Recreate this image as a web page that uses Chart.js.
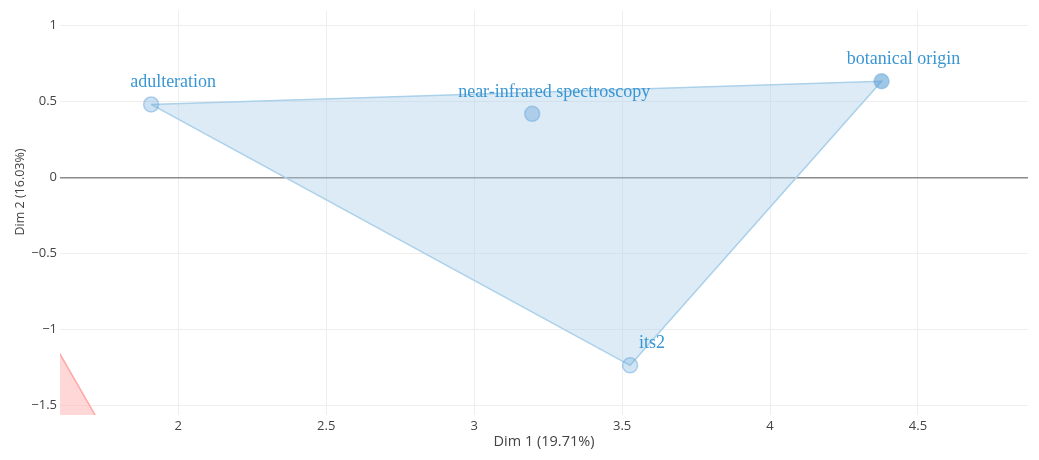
<!DOCTYPE html>
<html>
<head>
<meta charset="utf-8">
<script src="https://cdn.jsdelivr.net/npm/chart.js@4.4.0/dist/chart.umd.min.js"></script>
<style>
  html, body { margin: 0; padding: 0; background: #fff; }
  #wrap { width: 1039px; height: 460px; position: relative; }
</style>
</head>
<body>
<div id="wrap"><canvas id="biplot"></canvas></div>
<script>
// mots-clés et coordonnées sur les deux premières dimensions
const motsCles = ['adulteration', 'near-infrared spectroscopy', 'botanical origin', 'its2'];
const dim1 = [1.908, 3.196, 4.377, 3.527];
const dim2 = [0.479, 0.417, 0.631, -1.235];

// enveloppe du groupe bleu (indices dans les tableaux ci-dessus)
const enveloppeBleue = [0, 2, 3, 0];

// enveloppe du groupe rouge, en grande partie hors du cadre
const rougeX = [1.5, 1.8, 1.3, 1.5];
const rougeY = [-0.824, -1.835, -1.9, -0.824];

const ticksX = [2, 2.5, 3, 3.5, 4, 4.5];
const ticksY = [-1.5, -1, -0.5, 0, 0.5, 1];
const titreX = 'Dim 1 (19.71%)';
const titreY = 'Dim 2 (16.03%)';

const bleu = 'rgb(58,150,210)';
const policeAxes = '"Open Sans", Verdana, Arial, sans-serif';

function formatTick(v) {
    return String(v).replace('-', '\u2212');
}

// étiquettes des points + titres des axes
const etiquettes = {
    id: 'etiquettes',
    afterDatasetsDraw(chart) {
        const ctx = chart.ctx;
        const x = chart.scales.x;
        const y = chart.scales.y;
        ctx.save();
        ctx.fillStyle = bleu;
        ctx.font = '18px "Liberation Serif", "Times New Roman", serif';
        ctx.textAlign = 'center';
        ctx.textBaseline = 'middle';
        motsCles.forEach((m, i) => {
            ctx.fillText(m, x.getPixelForValue(dim1[i]) + 22, y.getPixelForValue(dim2[i]) - 22);
        });
        ctx.restore();
    },
    afterDraw(chart) {
        const ctx = chart.ctx;
        const area = chart.chartArea;
        ctx.save();
        ctx.fillStyle = '#444';
        ctx.textAlign = 'center';
        ctx.textBaseline = 'middle';
        ctx.font = '14.5px ' + policeAxes;
        ctx.fillText(titreX, (area.left + area.right) / 2, 442);
        ctx.translate(20, 192);
        ctx.rotate(-Math.PI / 2);
        ctx.font = '12.5px ' + policeAxes;
        ctx.fillText(titreY, 0, 0);
        ctx.restore();
    }
};

function chargerGraphique() {
    const ctx = document.getElementById('biplot').getContext('2d');

    new Chart(ctx, {
        type: 'scatter',
        data: {
            datasets: [
                {
                    label: 'points',
                    data: dim1.map((v, i) => ({ x: v, y: dim2[i] })),
                    pointRadius: 7.5,
                    pointHoverRadius: 7.5,
                    pointBackgroundColor: [
                        'rgba(110,170,220,0.35)', 'rgba(110,170,220,0.45)',
                        'rgba(80,155,210,0.55)', 'rgba(110,170,220,0.32)'
                    ],
                    pointBorderColor: 'rgba(110,170,220,0.5)',
                    pointBorderWidth: 1.5,
                    showLine: false,
                    order: 0
                },
                {
                    label: 'enveloppe bleue',
                    data: enveloppeBleue.map(i => ({ x: dim1[i], y: dim2[i] })),
                    showLine: true,
                    pointRadius: 0,
                    borderColor: 'rgba(170,208,234,1)',
                    borderWidth: 1.5,
                    backgroundColor: 'rgba(175,208,234,0.42)',
                    fill: 'shape',
                    tension: 0,
                    order: 1
                },
                {
                    label: 'enveloppe rouge',
                    data: rougeX.map((v, i) => ({ x: v, y: rougeY[i] })),
                    showLine: true,
                    pointRadius: 0,
                    borderColor: 'rgba(255,150,150,0.8)',
                    borderWidth: 1.5,
                    backgroundColor: 'rgba(255,175,175,0.5)',
                    fill: 'shape',
                    tension: 0,
                    clip: 0,
                    order: 2
                }
            ]
        },
        options: {
            responsive: true,
            maintainAspectRatio: false,
            animation: false,
            layout: { padding: { top: 8, right: 11, left: 0, bottom: 0 } },
            plugins: {
                legend: { display: false },
                tooltip: { enabled: false }
            },
            scales: {
                x: {
                    type: 'linear',
                    min: 1.6,
                    max: 4.872,
                    afterBuildTicks: axis => { axis.ticks = ticksX.map(v => ({ value: v })); },
                    afterFit: axis => { axis.height = 45; },
                    border: { display: false },
                    grid: { color: '#eeeeee', drawTicks: false },
                    ticks: {
                        padding: 3,
                        color: '#444',
                        font: { family: policeAxes, size: 13 },
                        callback: formatTick
                    }
                },
                y: {
                    type: 'linear',
                    min: -1.561,
                    max: 1.094,
                    afterBuildTicks: axis => { axis.ticks = ticksY.map(v => ({ value: v })); },
                    afterFit: axis => { axis.width = 60; },
                    border: { display: false },
                    grid: {
                        drawTicks: false,
                        color: c => (c.tick && c.tick.value === 0) ? '#8a8a8a' : '#eeeeee',
                        lineWidth: c => (c.tick && c.tick.value === 0) ? 1.5 : 1
                    },
                    ticks: {
                        padding: 3,
                        color: '#444',
                        font: { family: policeAxes, size: 13 },
                        callback: formatTick
                    }
                }
            }
        },
        plugins: [etiquettes]
    });
}

window.onload = chargerGraphique;
</script>
</body>
</html>
